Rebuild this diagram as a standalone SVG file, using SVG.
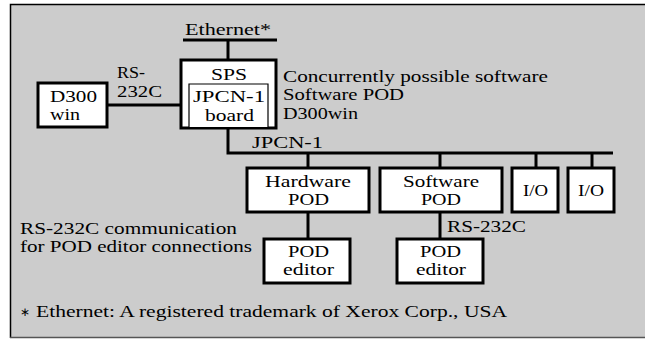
<svg xmlns="http://www.w3.org/2000/svg" width="645" height="340" viewBox="0 0 645 340">
  <style>
    text { font-family: "Liberation Serif", "Times New Roman", Times, serif; font-size: 16px; fill: #000; }
    .box { fill: #fff; stroke: #000; stroke-width: 3; }
    .thin { fill: #fff; stroke: #000; stroke-width: 1.2; }
    .wire { fill: none; stroke: #000; stroke-width: 3; }
    .star { font-size: 12px; }
  </style>

  <!-- panel background -->
  <rect x="10" y="4" width="640" height="334" fill="#cccccc"/>
  <path d="M10.5 338V4.5H650" fill="none" stroke="#000" stroke-width="1.5"/>
  <path d="M10 337.5H645" fill="none" stroke="#555" stroke-width="1.5"/>

  <g id="connectors">
    <path class="wire" d="M183 40H277M228 40V60"/>
    <path class="wire" d="M107 105H181"/>
    <path class="wire" d="M228 128V153H613"/>
    <path class="wire" d="M308 153V168M440 153V168M536 153V168M592 153V168"/>
    <path class="wire" d="M308 212V239M440 212V239"/>
  </g>

  <g id="ethernet">
    <text x="185" y="35" textLength="86" lengthAdjust="spacingAndGlyphs">Ethernet*</text>
  </g>

  <g id="d300win">
    <rect class="box" x="38" y="83" width="69" height="44"/>
    <text x="50" y="102" textLength="47" lengthAdjust="spacingAndGlyphs">D300</text>
    <text x="50" y="120" textLength="30" lengthAdjust="spacingAndGlyphs">win</text>
  </g>
  <text x="117" y="78" textLength="28" lengthAdjust="spacingAndGlyphs">RS-</text>
  <text x="117" y="97" textLength="45" lengthAdjust="spacingAndGlyphs">232C</text>

  <g id="sps">
    <rect class="box" x="181" y="60" width="95" height="68"/>
    <text x="211" y="80" textLength="36" lengthAdjust="spacingAndGlyphs">SPS</text>
    <path class="thin" d="M189 127V84H268V127"/>
    <text x="193" y="102" textLength="72" lengthAdjust="spacingAndGlyphs">JPCN-1</text>
    <text x="205" y="121" textLength="49" lengthAdjust="spacingAndGlyphs">board</text>
  </g>
  <text x="283" y="82" textLength="265" lengthAdjust="spacingAndGlyphs">Concurrently possible software</text>
  <text x="283" y="100" textLength="121" lengthAdjust="spacingAndGlyphs">Software POD</text>
  <text x="283" y="119" textLength="75" lengthAdjust="spacingAndGlyphs">D300win</text>
  <text x="252" y="148" textLength="71" lengthAdjust="spacingAndGlyphs">JPCN-1</text>

  <g id="hardware-pod">
    <rect class="box" x="247" y="168" width="122" height="44"/>
    <text x="265" y="187" textLength="86" lengthAdjust="spacingAndGlyphs">Hardware</text>
    <text x="288" y="205" textLength="41" lengthAdjust="spacingAndGlyphs">POD</text>
  </g>

  <g id="software-pod">
    <rect class="box" x="380" y="168" width="122" height="44"/>
    <text x="403" y="187" textLength="76" lengthAdjust="spacingAndGlyphs">Software</text>
    <text x="421" y="205" textLength="40" lengthAdjust="spacingAndGlyphs">POD</text>
  </g>

  <g id="io-1">
    <rect class="box" x="512" y="168" width="46" height="44"/>
    <text x="523" y="196" textLength="25" lengthAdjust="spacingAndGlyphs">I/O</text>
  </g>

  <g id="io-2">
    <rect class="box" x="568" y="168" width="46" height="44"/>
    <text x="578" y="196" textLength="26" lengthAdjust="spacingAndGlyphs">I/O</text>
  </g>

  <g id="pod-editor-1">
    <rect class="box" x="264" y="239" width="86" height="44"/>
    <text x="288" y="257" textLength="41" lengthAdjust="spacingAndGlyphs">POD</text>
    <text x="283" y="275" textLength="51" lengthAdjust="spacingAndGlyphs">editor</text>
  </g>

  <g id="pod-editor-2">
    <rect class="box" x="397" y="239" width="86" height="44"/>
    <text x="420" y="257" textLength="41" lengthAdjust="spacingAndGlyphs">POD</text>
    <text x="416" y="275" textLength="50" lengthAdjust="spacingAndGlyphs">editor</text>
  </g>
  <text x="447" y="232" textLength="79" lengthAdjust="spacingAndGlyphs">RS-232C</text>

  <text x="20" y="234" textLength="217" lengthAdjust="spacingAndGlyphs">RS-232C communication</text>
  <text x="20" y="252" textLength="232" lengthAdjust="spacingAndGlyphs">for POD editor connections</text>

  <text x="20" y="317"><tspan class="star" dy="-1">∗</tspan><tspan x="36" y="317" textLength="471" lengthAdjust="spacingAndGlyphs">Ethernet:  A registered trademark of Xerox Corp., USA</tspan></text>
</svg>
